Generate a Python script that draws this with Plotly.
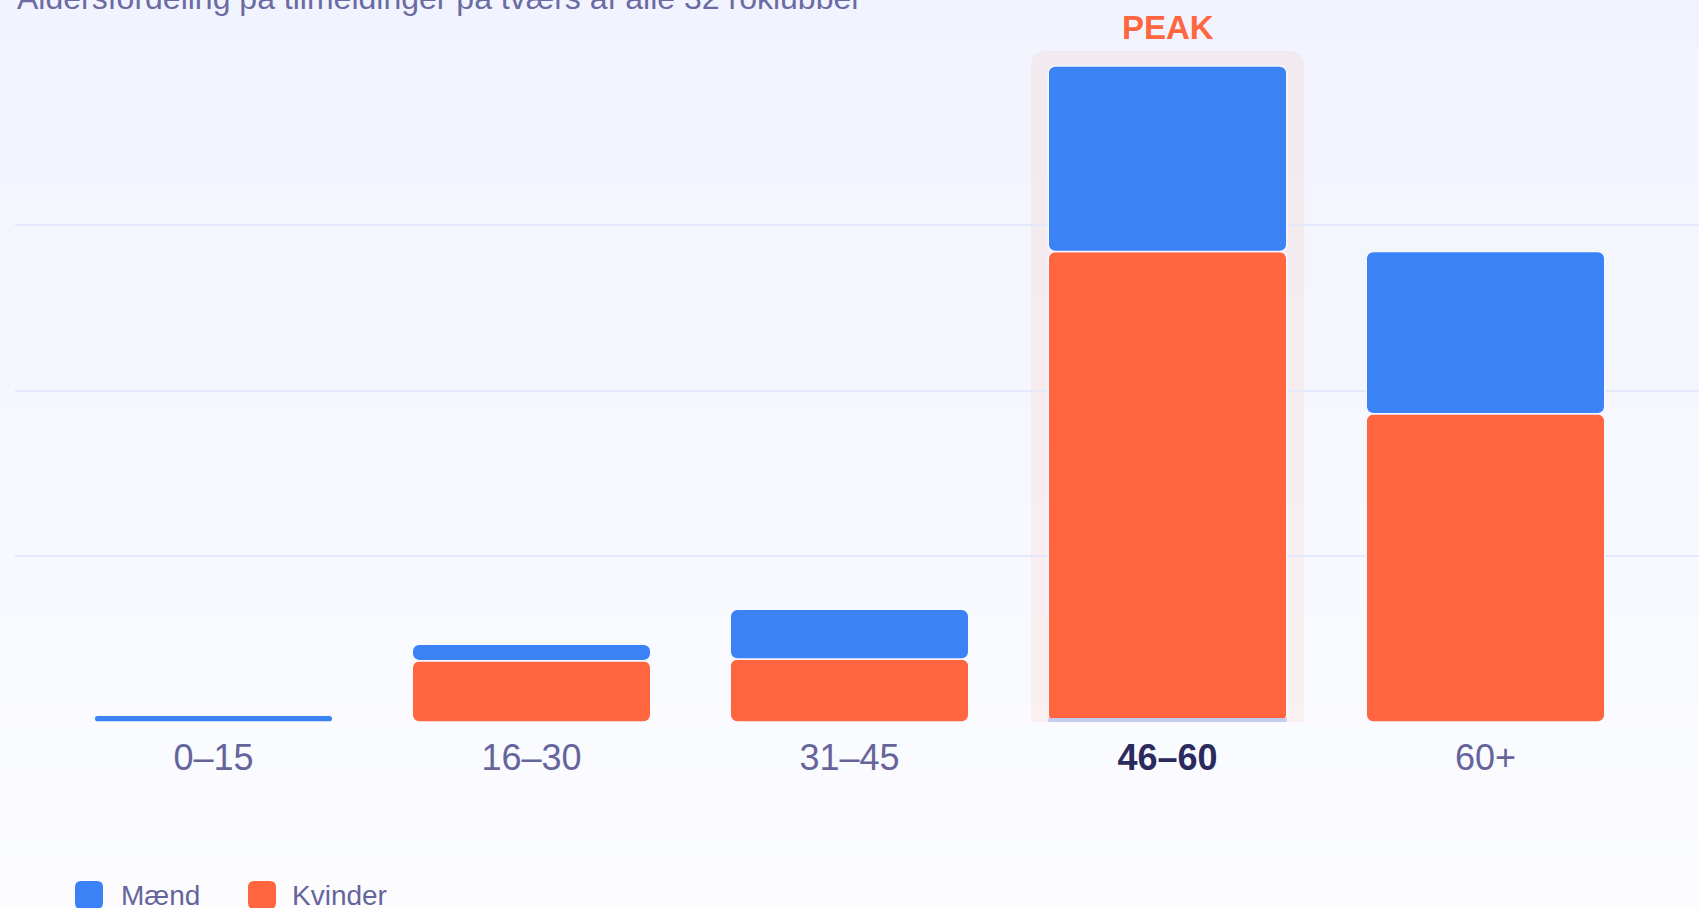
import plotly.graph_objects as go

# ---- data ----
categories = ["0–15", "16–30", "31–45", "46–60", "60+"]
men = [4, 10, 30, 112, 98]
women = [0, 37, 38, 284, 186]
series_names = ["Mænd", "Kvinder"]
title_text = "Aldersfordeling på tilmeldinger på tværs af alle 32 roklubber"
peak_label = "PEAK"
grid_vals = [0, 100, 200, 300]

# ---- style ----
W, H = 1699, 908
ML, MB = 15, 186
PLOT_H = H - MB
YMAX = 435.8
BLUE = "#3B82F6"
ORANGE = "#FF6640"
TXT = "#65659c"
DARK = "#2b2a5c"
FONT = "Liberation Sans, Arial, sans-serif"
GRID = "#e5e7fa"

totals = [m + w for m, w in zip(men, women)]
peak = max(range(len(totals)), key=lambda i: totals[i])
idx = list(range(len(categories)))


def pxx(p):
    return (p - ML) / (W - ML)


def pxy(p):
    return (PLOT_H - p) / PLOT_H


shapes = []
# background gradient
top = (241, 244, 254)
bot = (252, 252, 255)
N = 40
for k in range(N):
    t = k / (N - 1)
    c = tuple(round(top[j] + (bot[j] - top[j]) * t) for j in range(3))
    shapes.append(dict(type="rect", xref="paper", yref="paper",
                       x0=pxx(0), x1=pxx(W), y0=pxy(k * H / N), y1=pxy((k + 1) * H / N + 1),
                       fillcolor="rgb(%d,%d,%d)" % c, line=dict(width=0), layer="below"))

# peak highlight (rounded rect) in data coords
upp = YMAX / PLOT_H  # data units per pixel (y)
xu = 1 / 318.0       # category units per pixel (x)
hx0, hx1 = peak - 136.7 * xu, peak + 136.7 * xu
hy0, hy1 = 0, totals[peak] + 15 * upp
rx, ry = 16 * xu, 16 * upp
path = (f"M {hx0},{hy0} L {hx0},{hy1-ry} Q {hx0},{hy1} {hx0+rx},{hy1} "
        f"L {hx1-rx},{hy1} Q {hx1},{hy1} {hx1},{hy1-ry} L {hx1},{hy0} Z")
shapes.append(dict(type="path", xref="x", yref="y", path=path,
                   fillcolor="rgba(255,102,64,0.075)", line=dict(width=0), layer="below"))
# thin lavender strip under peak bar
shapes.append(dict(type="rect", xref="x", yref="y", x0=peak - 0.375, x1=peak + 0.375,
                   y0=0, y1=4 * upp, fillcolor="#c4cbef", line=dict(width=0), layer="above"))

# legend (manual, large rounded squares)
annotations = []
leg = [(75, 119, BLUE, series_names[0]), (248, 290, ORANGE, series_names[1])]
cy = 895
for sx, tx, col, name in leg:
    s = 28
    r = 6
    x0, x1, y0, y1 = sx, sx + s, cy - s / 2, cy + s / 2
    p = (f"M {pxx(x0+r)},{pxy(y0)} L {pxx(x1-r)},{pxy(y0)} Q {pxx(x1)},{pxy(y0)} {pxx(x1)},{pxy(y0+r)} "
         f"L {pxx(x1)},{pxy(y1-r)} Q {pxx(x1)},{pxy(y1)} {pxx(x1-r)},{pxy(y1)} "
         f"L {pxx(x0+r)},{pxy(y1)} Q {pxx(x0)},{pxy(y1)} {pxx(x0)},{pxy(y1-r)} "
         f"L {pxx(x0)},{pxy(y0+r)} Q {pxx(x0)},{pxy(y0)} {pxx(x0+r)},{pxy(y0)} Z")
    shapes.append(dict(type="path", xref="paper", yref="paper", path=p,
                       fillcolor=col, line=dict(width=0)))
    annotations.append(dict(xref="paper", yref="paper", x=pxx(tx), y=pxy(cy),
                            xanchor="left", yanchor="middle", text=name, showarrow=False,
                            font=dict(family=FONT, size=28, color=TXT)))

# title (partially cut at top)
annotations.append(dict(xref="paper", yref="paper", x=pxx(15), y=pxy(-2),
                        xanchor="left", yanchor="middle", text=title_text, showarrow=False,
                        font=dict(family=FONT, size=32, color="#6b6ba3")))
# PEAK label
annotations.append(dict(xref="x", yref="y", x=peak, y=totals[peak], yshift=38,
                        xanchor="center", yanchor="middle", text=f"<b>{peak_label}</b>",
                        showarrow=False, font=dict(family=FONT, size=33, color=ORANGE)))

ticktext = [f"<b><span style='color:{DARK}'>{c}</span></b>" if i == peak else c
            for i, c in enumerate(categories)]

fig = go.Figure()
fig.add_trace(go.Bar(x=idx, y=women, base=[0] * len(women), name=series_names[1],
                     marker=dict(color=ORANGE, cornerradius=7, line=dict(color="#f7f8fe", width=1.5)),
                     width=0.75, showlegend=False, hoverinfo="skip"))
fig.add_trace(go.Bar(x=idx, y=men, base=women, name=series_names[0],
                     marker=dict(color=BLUE, cornerradius=7, line=dict(color="#f7f8fe", width=1.5)),
                     width=0.75, showlegend=False, hoverinfo="skip"))

fig.update_layout(
    width=W, height=H, barmode="overlay",
    margin=dict(l=ML, r=0, t=0, b=MB, autoexpand=False),
    paper_bgcolor="#fbfbff", plot_bgcolor="rgba(0,0,0,0)",
    shapes=shapes, annotations=annotations, showlegend=False,
    xaxis=dict(range=[-(213.5 - ML) / 318.0, (W - 213.5) / 318.0], tickmode="array",
               tickvals=idx, ticktext=ticktext, showgrid=False, zeroline=False,
               showline=False, ticks="", ticklabelstandoff=11,
               tickfont=dict(family=FONT, size=36, color=TXT), fixedrange=True),
    yaxis=dict(range=[0, YMAX], tickmode="array", tickvals=grid_vals, showticklabels=False,
               showgrid=True, gridcolor=GRID, gridwidth=2, zeroline=False, showline=False,
               ticks="", fixedrange=True),
)

fig.write_html("out.html", config=dict(displayModeBar=False),
               post_script="document.body.style.margin='0';document.body.style.overflow='hidden';")
